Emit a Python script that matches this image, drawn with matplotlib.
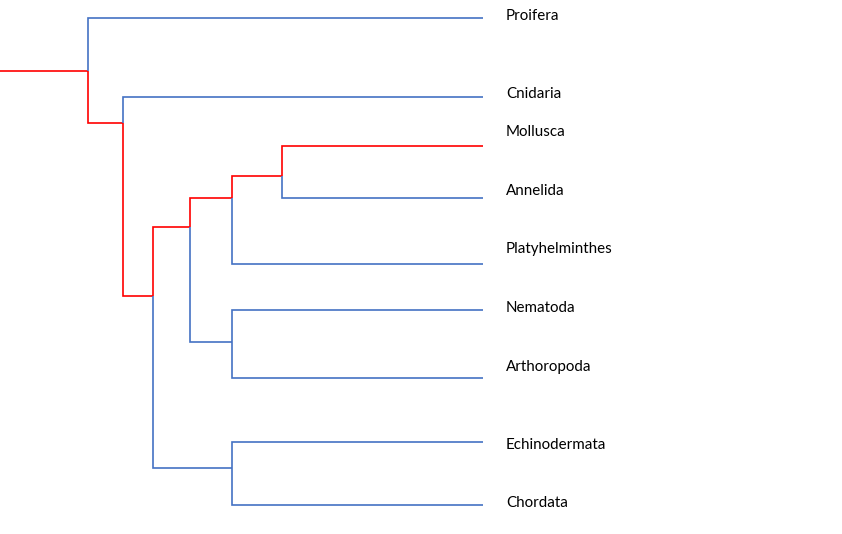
import matplotlib
matplotlib.use("Agg")
import matplotlib.pyplot as plt

# Leaves (taxa)
leaves = ["Proifera", "Cnidaria", "Mollusca", "Annelida", "Platyhelminthes",
          "Nematoda", "Arthoropoda", "Echinodermata", "Chordata"]
leaf_y = [18, 97, 146, 198, 264, 310, 378, 442, 505]
label_y = [16, 94, 132, 191, 249, 308, 367, 445, 503]
tip_x = 483
label_x = 506

# Internal nodes: name -> (x, y, children)
node_names = ["A", "B", "C", "D", "E", "F", "G", "H"]
node_x = [88, 123, 153, 190, 232, 282, 232, 232]
node_y = [71, 123, 296, 227, 198, 176, 342, 468]
node_children = [["Proifera", "B"], ["Cnidaria", "C"], ["D", "H"], ["E", "G"],
                 ["F", "Platyhelminthes"], ["Mollusca", "Annelida"],
                 ["Nematoda", "Arthoropoda"], ["Echinodermata", "Chordata"]]
root_stub_x = 0

# Highlighted path (red)
red_path = {"A", "B", "C", "D", "E", "F", "Mollusca"}

RED = "#FF0000"
BLUE = "#4472C4"

pos = {}
for n, x, y in zip(node_names, node_x, node_y):
    pos[n] = (x, y)
for n, y in zip(leaves, leaf_y):
    pos[n] = (tip_x, y)

fig = plt.figure(figsize=(8.42, 5.34), dpi=100)
ax = fig.add_axes([0, 0, 1, 1])
ax.set_xlim(0, 842)
ax.set_ylim(534, 0)
ax.axis("off")

lw = 1.2
# root stub
rx, ry = pos["A"]
ax.plot([root_stub_x, rx], [ry, ry], color=RED, lw=lw, solid_capstyle="butt")

for n, children in zip(node_names, node_children):
    px, py = pos[n]
    for c in children:
        cx, cy = pos[c]
        col = RED if c in red_path else BLUE
        ax.plot([px, px, cx], [py, cy, cy], color=col, lw=lw,
                solid_joinstyle="miter", solid_capstyle="butt")

for name, y in zip(leaves, label_y):
    ax.text(label_x, y, name, fontsize=10.9, family=["Lato", "DejaVu Sans"],
            va="center", ha="left", color="#000000")

fig.savefig("out.png", dpi=100)
